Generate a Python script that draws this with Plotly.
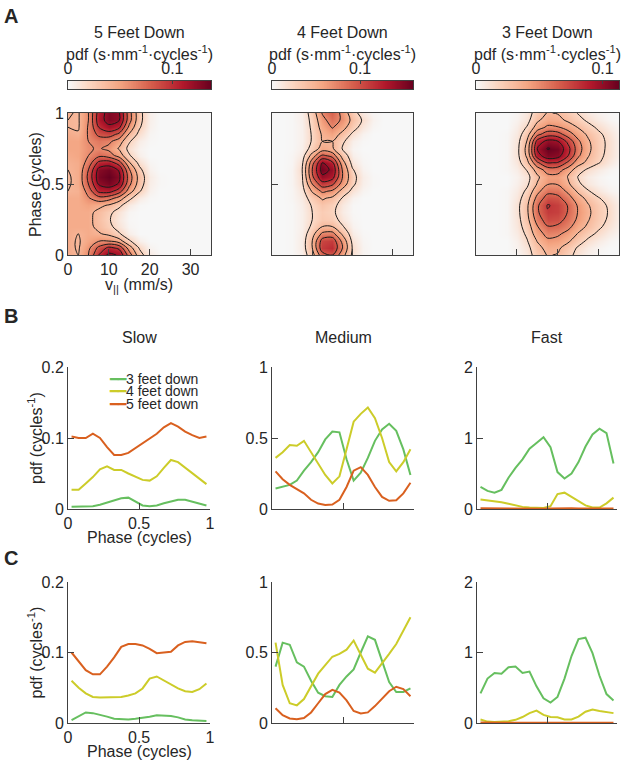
import numpy as np
import plotly.graph_objects as go

W, H = 621, 760
FONT = "Liberation Sans, Arial, Helvetica, sans-serif"
TXT = "#262626"
AX = "#404040"

# ---------------- Panel A data: pdf maps (values listed in units of 1e-3) ----------------
VEL = [0, 2.5, 5, 7.5, 10, 12.5, 15, 17.5, 20, 22.5, 25, 27.5, 30, 32.5, 35]
HEAT_PHASE = [0, 0.05, 0.10, 0.15, 0.20, 0.25, 0.30, 0.35, 0.40, 0.45, 0.50,
              0.55, 0.60, 0.65, 0.70, 0.75, 0.80, 0.85, 0.90, 0.95, 1.00]

PDF_5FT_E3 = [
    [45, 40, 60, 100, 125, 118, 70, 28, 8, 1, 0, 0, 0, 0, 0],
    [45, 38, 55, 85, 105, 95, 50, 18, 3, 0, 0, 0, 0, 0, 0],
    [45, 38, 48, 58, 58, 48, 22, 5, 0, 0, 0, 0, 0, 0, 0],
    [45, 40, 45, 42, 35, 22, 6, 0, 0, 0, 0, 0, 0, 0, 0],
    [45, 45, 45, 35, 25, 12, 2, 0, 0, 0, 0, 0, 0, 0, 0],
    [45, 45, 45, 33, 22, 9, 1, 0, 0, 0, 0, 0, 0, 0, 0],
    [45, 45, 45, 35, 25, 12, 2, 0, 0, 0, 0, 0, 0, 0, 0],
    [45, 45, 50, 45, 38, 25, 8, 1, 0, 0, 0, 0, 0, 0, 0],
    [45, 45, 58, 72, 68, 52, 25, 7, 1, 0, 0, 0, 0, 0, 0],
    [40, 42, 68, 105, 108, 90, 50, 22, 4, 0, 0, 0, 0, 0, 0],
    [38, 45, 80, 122, 130, 118, 65, 30, 6, 1, 0, 0, 0, 0, 0],
    [38, 45, 85, 130, 137, 125, 70, 32, 7, 1, 0, 0, 0, 0, 0],
    [40, 45, 80, 126, 132, 118, 62, 25, 4, 0, 0, 0, 0, 0, 0],
    [42, 45, 68, 105, 110, 90, 42, 14, 2, 0, 0, 0, 0, 0, 0],
    [45, 48, 60, 75, 70, 52, 22, 5, 0, 0, 0, 0, 0, 0, 0],
    [48, 48, 58, 62, 55, 38, 14, 3, 0, 0, 0, 0, 0, 0, 0],
    [48, 48, 60, 68, 64, 50, 22, 6, 1, 0, 0, 0, 0, 0, 0],
    [45, 42, 62, 85, 90, 75, 38, 14, 2, 0, 0, 0, 0, 0, 0],
    [40, 38, 62, 100, 115, 105, 55, 22, 4, 0, 0, 0, 0, 0, 0],
    [40, 38, 60, 110, 128, 122, 68, 26, 5, 0, 0, 0, 0, 0, 0],
    [42, 38, 60, 108, 128, 122, 68, 26, 5, 0, 0, 0, 0, 0, 0],
]

PDF_4FT_E3 = [
    [0, 0, 1, 6, 35, 85, 95, 55, 15, 3, 0, 0, 0, 0, 0],
    [0, 0, 1, 8, 45, 110, 118, 70, 18, 3, 0, 0, 0, 0, 0],
    [0, 0, 1, 8, 45, 105, 110, 62, 14, 2, 0, 0, 0, 0, 0],
    [0, 0, 1, 7, 35, 75, 78, 40, 8, 1, 0, 0, 0, 0, 0],
    [0, 0, 1, 6, 24, 45, 45, 22, 4, 0, 0, 0, 0, 0, 0],
    [0, 0, 1, 6, 20, 32, 30, 12, 2, 0, 0, 0, 0, 0, 0],
    [0, 0, 1, 6, 20, 30, 25, 8, 1, 0, 0, 0, 0, 0, 0],
    [0, 0, 1, 7, 22, 35, 28, 10, 1, 0, 0, 0, 0, 0, 0],
    [0, 0, 2, 9, 30, 48, 40, 18, 4, 0, 0, 0, 0, 0, 0],
    [0, 0, 2, 12, 48, 75, 66, 36, 14, 3, 0, 0, 0, 0, 0],
    [0, 0, 3, 16, 70, 110, 100, 60, 25, 6, 1, 0, 0, 0, 0],
    [0, 0, 3, 18, 90, 140, 130, 70, 28, 7, 1, 0, 0, 0, 0],
    [0, 0, 3, 20, 95, 155, 140, 68, 22, 4, 0, 0, 0, 0, 0],
    [0, 0, 2, 16, 85, 145, 125, 55, 12, 2, 0, 0, 0, 0, 0],
    [0, 0, 2, 10, 55, 100, 85, 35, 6, 1, 0, 0, 0, 0, 0],
    [0, 0, 1, 6, 28, 55, 48, 18, 3, 0, 0, 0, 0, 0, 0],
    [0, 0, 1, 5, 22, 45, 45, 24, 6, 1, 0, 0, 0, 0, 0],
    [0, 0, 1, 5, 22, 48, 58, 38, 16, 4, 0, 0, 0, 0, 0],
    [0, 0, 1, 5, 24, 55, 72, 55, 30, 12, 2, 0, 0, 0, 0],
    [0, 0, 1, 6, 26, 62, 82, 66, 38, 18, 4, 0, 0, 0, 0],
    [0, 0, 1, 6, 30, 72, 90, 62, 30, 10, 2, 0, 0, 0, 0],
]

PDF_3FT_E3 = [
    [0, 0, 0, 0, 2, 8, 22, 32, 30, 20, 10, 4, 1, 0, 0],
    [0, 0, 0, 0, 3, 10, 26, 36, 34, 24, 13, 6, 2, 0, 0],
    [0, 0, 0, 0, 4, 14, 32, 44, 42, 34, 22, 12, 6, 2, 0],
    [0, 0, 0, 1, 6, 18, 40, 52, 50, 42, 30, 20, 12, 6, 2],
    [0, 0, 0, 1, 8, 22, 46, 62, 60, 52, 38, 28, 18, 10, 4],
    [0, 0, 0, 1, 9, 26, 54, 72, 70, 58, 44, 32, 21, 13, 5],
    [0, 0, 0, 1, 10, 28, 60, 78, 76, 62, 46, 34, 22, 14, 5],
    [0, 0, 0, 1, 10, 28, 60, 80, 76, 62, 45, 32, 21, 13, 5],
    [0, 0, 0, 1, 8, 24, 52, 70, 68, 54, 38, 26, 16, 9, 3],
    [0, 0, 0, 1, 6, 18, 42, 58, 56, 44, 28, 16, 8, 3, 1],
    [0, 0, 0, 0, 4, 12, 32, 46, 46, 34, 18, 8, 3, 1, 0],
    [0, 0, 0, 0, 3, 10, 28, 42, 42, 30, 14, 6, 2, 0, 0],
    [0, 0, 0, 1, 5, 16, 38, 54, 54, 40, 22, 12, 6, 2, 0],
    [0, 0, 0, 1, 8, 26, 60, 80, 78, 60, 38, 26, 16, 8, 2],
    [0, 0, 0, 1, 10, 34, 88, 105, 102, 80, 50, 32, 19, 11, 4],
    [0, 0, 0, 1, 10, 36, 95, 112, 108, 85, 54, 35, 20, 12, 4],
    [0, 0, 0, 1, 9, 32, 85, 100, 96, 75, 50, 33, 20, 12, 4],
    [0, 0, 0, 1, 7, 24, 58, 72, 70, 55, 40, 28, 18, 10, 3],
    [0, 0, 0, 0, 5, 16, 38, 50, 48, 40, 30, 20, 12, 6, 2],
    [0, 0, 0, 0, 3, 10, 28, 38, 36, 28, 20, 12, 6, 2, 0],
    [0, 0, 0, 0, 2, 8, 22, 32, 30, 22, 14, 7, 3, 1, 0],
]

HEAT_TITLES = ["5 Feet Down", "4 Feet Down", "3 Feet Down"]
CBAR_MAX = [0.137, 0.160, 0.113]
CBAR_TICKS = [0, 0.1]
CBAR_TICKTEXT = ["0", "0.1"]
CONTOUR_START = [0.02, 0.02, 0.015]
CONTOUR_STEP = [0.02, 0.025, 0.016]
VEL_TICKS = [0, 10, 20, 30]
VEL_TICKTEXT = ["0", "10", "20", "30"]

# ---------------- Panels B & C data: phase pdfs ----------------
PHASE = [0.025, 0.075, 0.125, 0.175, 0.225, 0.275, 0.325, 0.375, 0.425, 0.475,
         0.525, 0.575, 0.625, 0.675, 0.725, 0.775, 0.825, 0.875, 0.925, 0.975]
SERIES_NAMES = ["3 feet down", "4 feet down", "5 feet down"]
SERIES_COLORS = ["#66bf5f", "#cccc29", "#d9601f"]
SPEED_TITLES = ["Slow", "Medium", "Fast"]
Y_MAX = [0.2, 1, 2]
Y_TICKS = [[0, 0.1, 0.2], [0, 0.5, 1], [0, 1, 2]]
Y_TICKTEXT = [["0", "0.1", "0.2"], ["0", "0.5", "1"], ["0", "1", "2"]]
PHASE_TICKS = [0, 0.5, 1]
PHASE_TICKTEXT = ["0", "0.5", "1"]

B_SLOW_3FT = [0.003, 0.003, 0.003, 0.004, 0.006, 0.009, 0.012, 0.015, 0.016, 0.011,
              0.005, 0.004, 0.005, 0.008, 0.011, 0.013, 0.013, 0.010, 0.007, 0.005]
B_SLOW_4FT = [0.027, 0.027, 0.036, 0.045, 0.056, 0.060, 0.055, 0.055, 0.050, 0.046,
              0.041, 0.040, 0.046, 0.058, 0.069, 0.066, 0.058, 0.050, 0.042, 0.035]
B_SLOW_5FT = [0.102, 0.100, 0.100, 0.106, 0.100, 0.087, 0.076, 0.076, 0.079, 0.086,
              0.093, 0.099, 0.106, 0.115, 0.121, 0.116, 0.109, 0.104, 0.100, 0.102]

B_MED_3FT = [0.145, 0.155, 0.17, 0.20, 0.27, 0.33, 0.40, 0.49, 0.545, 0.54,
             0.35, 0.20, 0.255, 0.36, 0.48, 0.56, 0.60, 0.55, 0.42, 0.24]
B_MED_4FT = [0.36, 0.40, 0.45, 0.445, 0.48, 0.40, 0.32, 0.24, 0.18, 0.23,
             0.42, 0.615, 0.67, 0.715, 0.64, 0.50, 0.33, 0.265, 0.33, 0.42]
B_MED_5FT = [0.265, 0.21, 0.17, 0.14, 0.11, 0.065, 0.038, 0.028, 0.032, 0.065,
             0.155, 0.27, 0.295, 0.24, 0.155, 0.085, 0.058, 0.062, 0.11, 0.185]

B_FAST_3FT = [0.31, 0.255, 0.23, 0.27, 0.44, 0.58, 0.70, 0.85, 0.93, 1.01,
              0.87, 0.52, 0.43, 0.50, 0.66, 0.88, 1.05, 1.13, 1.07, 0.64]
B_FAST_4FT = [0.135, 0.125, 0.115, 0.095, 0.075, 0.05, 0.03, 0.02, 0.013, 0.015,
              0.04, 0.21, 0.23, 0.17, 0.10, 0.05, 0.022, 0.02, 0.08, 0.16]
B_FAST_5FT = [0.012, 0.010, 0.008, 0.006, 0.005, 0.004, 0.003, 0.003, 0.003, 0.004,
              0.006, 0.010, 0.012, 0.010, 0.006, 0.004, 0.003, 0.003, 0.004, 0.006]

C_SLOW_3FT = [0.004, 0.010, 0.015, 0.014, 0.012, 0.009, 0.006, 0.005, 0.005, 0.006,
              0.007, 0.009, 0.011, 0.011, 0.010, 0.008, 0.005, 0.004, 0.003, 0.003]
C_SLOW_4FT = [0.060, 0.050, 0.042, 0.037, 0.036, 0.036, 0.036, 0.037, 0.039, 0.042,
              0.049, 0.063, 0.066, 0.060, 0.055, 0.049, 0.045, 0.044, 0.048, 0.056]
C_SLOW_5FT = [0.100, 0.087, 0.075, 0.069, 0.069, 0.080, 0.093, 0.108, 0.112, 0.112,
              0.110, 0.105, 0.099, 0.100, 0.101, 0.110, 0.115, 0.116, 0.114, 0.113]

C_MED_3FT = [0.40, 0.57, 0.555, 0.43, 0.40, 0.30, 0.215, 0.19, 0.185, 0.27,
             0.33, 0.38, 0.50, 0.615, 0.59, 0.44, 0.29, 0.22, 0.22, 0.245]
C_MED_4FT = [0.57, 0.27, 0.14, 0.125, 0.17, 0.26, 0.35, 0.41, 0.47, 0.49,
             0.52, 0.585, 0.48, 0.385, 0.357, 0.42, 0.49, 0.56, 0.66, 0.75]
C_MED_5FT = [0.105, 0.055, 0.032, 0.026, 0.035, 0.075, 0.14, 0.205, 0.235, 0.215,
             0.16, 0.085, 0.068, 0.075, 0.12, 0.17, 0.225, 0.257, 0.24, 0.19]

C_FAST_3FT = [0.42, 0.63, 0.71, 0.70, 0.79, 0.80, 0.71, 0.73, 0.52, 0.35,
              0.29, 0.37, 0.63, 0.95, 1.19, 1.21, 0.99, 0.67, 0.41, 0.32]
C_FAST_4FT = [0.05, 0.02, 0.015, 0.015, 0.025, 0.045, 0.085, 0.14, 0.175, 0.115,
              0.085, 0.08, 0.05, 0.05, 0.09, 0.16, 0.19, 0.17, 0.155, 0.14]
C_FAST_5FT = [0.006, 0.004, 0.003, 0.003, 0.003, 0.003, 0.004, 0.005, 0.005, 0.004,
              0.003, 0.003, 0.003, 0.004, 0.005, 0.006, 0.005, 0.004, 0.003, 0.003]

ROW_B = [[B_SLOW_3FT, B_SLOW_4FT, B_SLOW_5FT],
         [B_MED_3FT, B_MED_4FT, B_MED_5FT],
         [B_FAST_3FT, B_FAST_4FT, B_FAST_5FT]]
ROW_C = [[C_SLOW_3FT, C_SLOW_4FT, C_SLOW_5FT],
         [C_MED_3FT, C_MED_4FT, C_MED_5FT],
         [C_FAST_3FT, C_FAST_4FT, C_FAST_5FT]]

# ---------------- Layout geometry (pixels) ----------------
HEAT_X = [(68, 211), (272, 413), (476, 619)]
HEAT_Y = (113, 255)
CBAR_Y = (81, 89)
LINE_X = [(68, 210), (272, 414), (477, 617)]
ROWS_Y = [(367, 509), (582, 723)]

COLORSCALE = [[0.0, "#f7f7f7"], [0.15, "#fbd5c0"], [0.36, "#f4a582"],
              [0.57, "#d6604d"], [0.8, "#b2182b"], [1.0, "#67001f"]]


def xdom(a, b):
    return [a / W, b / W]


def ydom(top, bottom):
    return [1 - bottom / H, 1 - top / H]


def axname(k, letter):
    return letter if k == 1 else f"{letter}{k}"


fig = go.Figure()
layout = {}
tickfont = dict(family=FONT, size=16, color=TXT)

# ---- Panel A ----
heat_data = [PDF_5FT_E3, PDF_4FT_E3, PDF_3FT_E3]
for i in range(3):
    k = i + 1
    z = np.array(heat_data[i], dtype=float) / 1000.0
    x0, x1 = HEAT_X[i]
    fig.add_trace(go.Heatmap(
        x=VEL, y=HEAT_PHASE, z=z, colorscale=COLORSCALE, zmin=0, zmax=CBAR_MAX[i],
        zsmooth="best", showscale=False, hoverinfo="skip",
        xaxis=axname(k, "x"), yaxis=axname(k, "y")))
    fig.add_trace(go.Contour(
        x=VEL, y=HEAT_PHASE, z=z, showscale=False, hoverinfo="skip",
        contours=dict(coloring="none", start=CONTOUR_START[i], end=CBAR_MAX[i],
                      size=CONTOUR_STEP[i]),
        line=dict(color="#1a1a1a", width=1, smoothing=1.0),
        xaxis=axname(k, "x"), yaxis=axname(k, "y")))
    layout[axname(k, "xaxis")] = dict(
        domain=xdom(x0, x1), range=[0, 35], anchor=axname(k, "y"),
        tickvals=VEL_TICKS, ticktext=VEL_TICKTEXT, showticklabels=(i == 0),
        ticks="inside", ticklen=6, tickcolor=AX, showline=True, mirror=True,
        linecolor=AX, linewidth=1, showgrid=False, zeroline=False, tickfont=tickfont)
    layout[axname(k, "yaxis")] = dict(
        domain=ydom(*HEAT_Y), range=[0, 1], anchor=axname(k, "x"),
        tickvals=PHASE_TICKS, ticktext=PHASE_TICKTEXT, showticklabels=(i == 0),
        ticks="inside", ticklen=6, tickcolor=AX, showline=True, mirror=True,
        linecolor=AX, linewidth=1, showgrid=False, zeroline=False, tickfont=tickfont)

    # colour bar: a colour ramp drawn on its own scale axis, labels above the bar
    kc = 10 + i
    ramp = np.linspace(0, CBAR_MAX[i], 200)
    fig.add_trace(go.Heatmap(
        x=ramp, y=[0.5], z=[ramp], colorscale=COLORSCALE, zmin=0, zmax=CBAR_MAX[i],
        zsmooth="best", showscale=False, hoverinfo="skip",
        xaxis=axname(kc, "x"), yaxis=axname(kc, "y")))
    layout[axname(kc, "xaxis")] = dict(
        domain=xdom(x0, x1), range=[0, CBAR_MAX[i]], anchor=axname(kc, "y"),
        side="top", tickvals=CBAR_TICKS, ticktext=CBAR_TICKTEXT, ticks="inside",
        ticklen=3, tickcolor=AX, showline=True, mirror=True, linecolor=AX,
        linewidth=1, showgrid=False, zeroline=False, tickfont=tickfont,
        fixedrange=True)
    layout[axname(kc, "yaxis")] = dict(
        domain=ydom(*CBAR_Y), range=[0, 1], anchor=axname(kc, "x"),
        showticklabels=False, ticks="", showline=True, mirror=True, linecolor=AX,
        linewidth=1, showgrid=False, zeroline=False, fixedrange=True)

# ---- Panels B and C ----
for r, row in enumerate([ROW_B, ROW_C]):
    for c in range(3):
        k = 4 + 3 * r + c
        for s in range(3):
            fig.add_trace(go.Scatter(
                x=PHASE, y=row[c][s], mode="lines", name=SERIES_NAMES[s],
                line=dict(color=SERIES_COLORS[s], width=2), showlegend=False,
                xaxis=axname(k, "x"), yaxis=axname(k, "y"), hoverinfo="skip"))
        x0, x1 = LINE_X[c]
        layout[axname(k, "xaxis")] = dict(
            domain=xdom(x0, x1), range=[0, 1], anchor=axname(k, "y"),
            tickvals=PHASE_TICKS, ticktext=PHASE_TICKTEXT, showticklabels=(c == 0),
            ticks="inside", ticklen=6, tickcolor=AX, showline=True, mirror=False,
            linecolor=AX, linewidth=1, showgrid=False, zeroline=False, tickfont=tickfont)
        layout[axname(k, "yaxis")] = dict(
            domain=ydom(*ROWS_Y[r]), range=[0, Y_MAX[c]], anchor=axname(k, "x"),
            tickvals=Y_TICKS[c], ticktext=Y_TICKTEXT[c], ticks="inside", ticklen=6,
            tickcolor=AX, showline=True, mirror=False, linecolor=AX, linewidth=1,
            showgrid=False, zeroline=False, tickfont=tickfont)

# ---- Text ----
annotations = []


def ann(text, px, py, size=16, bold=False, xanchor="center", angle=0):
    annotations.append(dict(
        text=f"<b>{text}</b>" if bold else text, x=px / W, y=1 - py / H,
        xref="paper", yref="paper", xanchor=xanchor, yanchor="middle",
        showarrow=False, textangle=angle, font=dict(family=FONT, size=size, color=TXT)))


ann("A", 2, 16, size=20, bold=True, xanchor="left")
ann("B", 2, 316, size=20, bold=True, xanchor="left")
ann("C", 2, 558, size=20, bold=True, xanchor="left")

for i in range(3):
    cx = (HEAT_X[i][0] + HEAT_X[i][1]) / 2
    ann(HEAT_TITLES[i], cx, 32)
    ann("pdf (s·mm<sup>-1</sup>·cycles<sup>-1</sup>)", cx, 53)

ann("Phase (cycles)", 35, 185, angle=-90)
ann("v<sub>||</sub> (mm/s)", 139, 285)

for c in range(3):
    ann(SPEED_TITLES[c], (LINE_X[c][0] + LINE_X[c][1]) / 2, 337)

for r in range(2):
    y0, y1 = ROWS_Y[r]
    ann("pdf (cycles<sup>-1</sup>)", 35, (y0 + y1) / 2, angle=-90)
    ann("Phase (cycles)", 139, y1 + 28)

# legend (inside Slow, row B)
LEGEND_ROWS_Y = [379, 391, 404]
for s in range(3):
    annotations.append(dict(
        text=f"<span style='color:{SERIES_COLORS[s]}'>━━</span>{SERIES_NAMES[s]}",
        x=107 / W, y=1 - LEGEND_ROWS_Y[s] / H, xref="paper", yref="paper",
        xanchor="left", yanchor="middle", showarrow=False,
        font=dict(family=FONT, size=14, color=TXT)))

fig.update_layout(
    width=W, height=H, margin=dict(l=0, r=0, t=0, b=0, pad=0, autoexpand=False),
    paper_bgcolor="white", plot_bgcolor="white", showlegend=False,
    font=dict(family=FONT, size=16, color=TXT), annotations=annotations, **layout)

fig.write_html(
    "out.html",
    config={"displayModeBar": False, "staticPlot": True},
    post_script="document.body.style.margin='0';document.body.style.padding='0';")
